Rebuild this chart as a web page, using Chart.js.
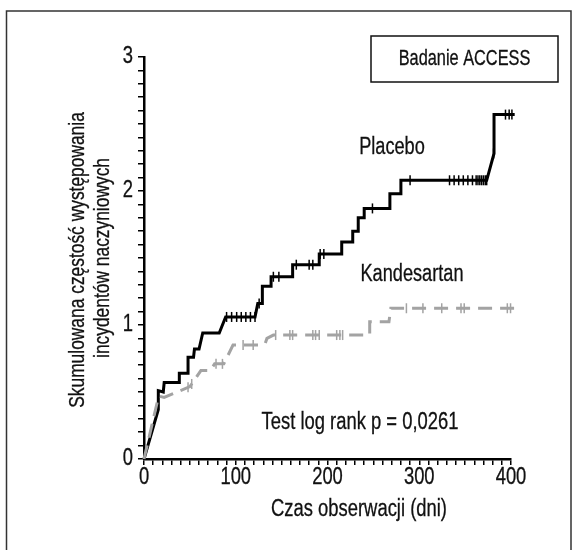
<!DOCTYPE html>
<html>
<head>
<meta charset="utf-8">
<script src="https://cdn.jsdelivr.net/npm/chart.js@4.4.0/dist/chart.umd.min.js"></script>
<style>
  html, body { margin: 0; padding: 0; background: #fff; }
  #wrap { width: 576px; height: 550px; position: relative; }
</style>
</head>
<body>
<div id="wrap"><canvas id="accessChart"></canvas></div>
<script>
// cumulative event curves (days, rate)
const placeboDays = [0, 15.6, 15.6, 21, 22, 38.5, 38.5, 48, 48, 54, 55, 60, 64, 82, 89, 121, 124, 129, 129, 138.5, 138.5, 162, 162, 191, 191, 215.5, 215.5, 227.5, 227.5, 233.5, 233.5, 240, 240, 268, 268, 280, 280, 373.5, 381.5, 381.5, 404];
const placeboRate = [0, 0.37, 0.51, 0.50, 0.57, 0.57, 0.64, 0.64, 0.76, 0.76, 0.82, 0.82, 0.94, 0.94, 1.06, 1.06, 1.16, 1.16, 1.29, 1.29, 1.36, 1.36, 1.45, 1.45, 1.53, 1.53, 1.62, 1.62, 1.70, 1.70, 1.80, 1.80, 1.87, 1.87, 1.98, 1.98, 2.08, 2.08, 2.28, 2.57, 2.57];

const kandDays = [0, 16, 22, 50, 62, 72, 77, 87, 97, 126, 132, 134, 141, 246, 246, 267, 269, 404];
const kandRate = [0, 0.47, 0.46, 0.54, 0.66, 0.66, 0.71, 0.71, 0.85, 0.85, 0.86, 0.90, 0.925, 0.925, 1.025, 1.025, 1.125, 1.125];

// censored observations (tick marks on the curves)
const placeboCensorDays = [90, 95.5, 101, 106, 111, 116, 121, 125.5, 141, 147, 166, 180, 184, 192, 196, 249, 290, 333, 338, 343, 348, 353, 358, 362, 364, 366, 368, 370, 372, 373.5, 381, 394, 398, 401, 404];
const placeboCensorRate = [1.06, 1.06, 1.06, 1.06, 1.06, 1.06, 1.06, 1.16, 1.36, 1.36, 1.45, 1.45, 1.45, 1.53, 1.53, 1.87, 2.08, 2.08, 2.08, 2.08, 2.08, 2.08, 2.08, 2.08, 2.08, 2.08, 2.08, 2.08, 2.08, 2.08, 2.28, 2.57, 2.57, 2.57, 2.57];

const kandCensorDays = [48, 52, 78.5, 85.5, 108, 119, 143.5, 159, 162, 184, 187, 191, 210, 213.5, 216.5, 286, 304, 324.5, 345.5, 349, 396, 399.5];
const kandCensorRate = [0.535, 0.56, 0.71, 0.71, 0.85, 0.85, 0.925, 0.925, 0.925, 0.925, 0.925, 0.925, 0.925, 0.925, 0.925, 1.125, 1.125, 1.125, 1.125, 1.125, 1.125, 1.125];

const xTickLabels = [0, 100, 200, 300, 400];
const yTickLabels = [0, 1, 2, 3];

const FONT = "'Liberation Sans', Arial, sans-serif";
const GREY = '#a3a3a3';

function toPoints(xs, ys) {
    return xs.map(function (x, i) { return { x: x, y: ys[i] }; });
}

// Liberation Sans squeezed sideways to look like the condensed face of the original
function narrowText(ctx, text, x, y, size, squeeze, align, rot) {
    ctx.save();
    ctx.translate(x, y);
    if (rot) ctx.rotate(rot);
    ctx.scale(squeeze, 1);
    ctx.font = size + 'px ' + FONT;
    ctx.textAlign = align || 'center';
    ctx.textBaseline = 'middle';
    ctx.lineWidth = 0.3;
    ctx.strokeStyle = '#111';
    ctx.fillText(text, 0, 0);
    ctx.strokeText(text, 0, 0);
    ctx.restore();
}

// frame, legend box, tick labels and free text
const extras = {
    id: 'extras',
    afterDraw: function (chart) {
        const ctx = chart.ctx;
        const xs = chart.scales.x, ys = chart.scales.y;
        ctx.save();
        ctx.strokeStyle = '#333';
        ctx.lineWidth = 1.5;
        ctx.beginPath();
        ctx.moveTo(6.5, 550);
        ctx.lineTo(6.5, 11);
        ctx.lineTo(571, 11);
        ctx.lineTo(571, 550);
        ctx.stroke();

        ctx.strokeStyle = '#111';
        ctx.strokeRect(371, 36, 187, 46);

        ctx.fillStyle = '#111';
        xTickLabels.forEach(function (v) {
            narrowText(ctx, String(v), xs.getPixelForValue(v), 478, 23, 0.8);
        });
        yTickLabels.forEach(function (v) {
            narrowText(ctx, String(v), 133, ys.getPixelForValue(v), 23, 0.8, 'right');
        });

        narrowText(ctx, 'Badanie ACCESS', 464.5, 59, 21.5, 0.76);
        narrowText(ctx, 'Placebo', 392, 148, 23, 0.79);
        narrowText(ctx, 'Kandesartan', 412, 275, 23, 0.79);
        narrowText(ctx, 'Test log rank p = 0,0261', 360, 423, 23, 0.8);
        narrowText(ctx, 'Czas obserwacji (dni)', 359, 510, 23, 0.8);
        narrowText(ctx, 'Skumulowana częstość występowania', 78, 260, 22, 0.79, 'center', -Math.PI / 2);
        narrowText(ctx, 'incydentów naczyniowych', 103, 258, 22, 0.79, 'center', -Math.PI / 2);
        ctx.restore();
    }
};

const ctx = document.getElementById('accessChart');

new Chart(ctx, {
    type: 'scatter',
    data: {
        datasets: [{
            label: 'Kandesartan',
            data: toPoints(kandDays, kandRate),
            showLine: true,
            borderColor: GREY,
            borderWidth: 3,
            borderDash: [14, 8],
            pointRadius: 0,
            clip: false
        }, {
            label: 'Placebo',
            data: toPoints(placeboDays, placeboRate),
            showLine: true,
            borderColor: '#000',
            borderWidth: 3,
            pointRadius: 0,
            clip: false
        }, {
            label: 'Kandesartan censored',
            data: toPoints(kandCensorDays, kandCensorRate),
            pointStyle: 'line',
            rotation: 90,
            pointRadius: 5,
            borderColor: GREY,
            borderWidth: 1.5,
            clip: false
        }, {
            label: 'Placebo censored',
            data: toPoints(placeboCensorDays, placeboCensorRate),
            pointStyle: 'line',
            rotation: 90,
            pointRadius: 5,
            borderColor: '#000',
            borderWidth: 1.5,
            clip: false
        }]
    },
    options: {
        responsive: true,
        maintainAspectRatio: false,
        animation: false,
        layout: { padding: { top: 57, right: 65, left: 0, bottom: 0 } },
        plugins: {
            legend: { display: false },
            tooltip: { enabled: false }
        },
        scales: {
            x: {
                type: 'linear',
                min: 0,
                max: 400,
                afterFit: function (scale) { scale.height = 91; },
                border: { display: true, color: '#000', width: 2.5 },
                grid: { drawOnChartArea: false, drawTicks: true, tickLength: 6, color: '#000', lineWidth: 1.5 },
                // minor tick every 10 days, labels are drawn narrow by the plugin
                ticks: { stepSize: 10, autoSkip: false, maxRotation: 0, callback: function () { return ''; } }
            },
            y: {
                type: 'linear',
                min: 0,
                max: 3,
                afterFit: function (scale) { scale.width = 144; },
                border: { display: true, color: '#000', width: 2.5 },
                grid: { drawOnChartArea: false, drawTicks: true, tickLength: 6, color: '#000', lineWidth: 1.5 },
                ticks: { stepSize: 0.1, autoSkip: false, callback: function () { return ''; } }
            }
        }
    },
    plugins: [extras]
});
</script>
</body>
</html>
